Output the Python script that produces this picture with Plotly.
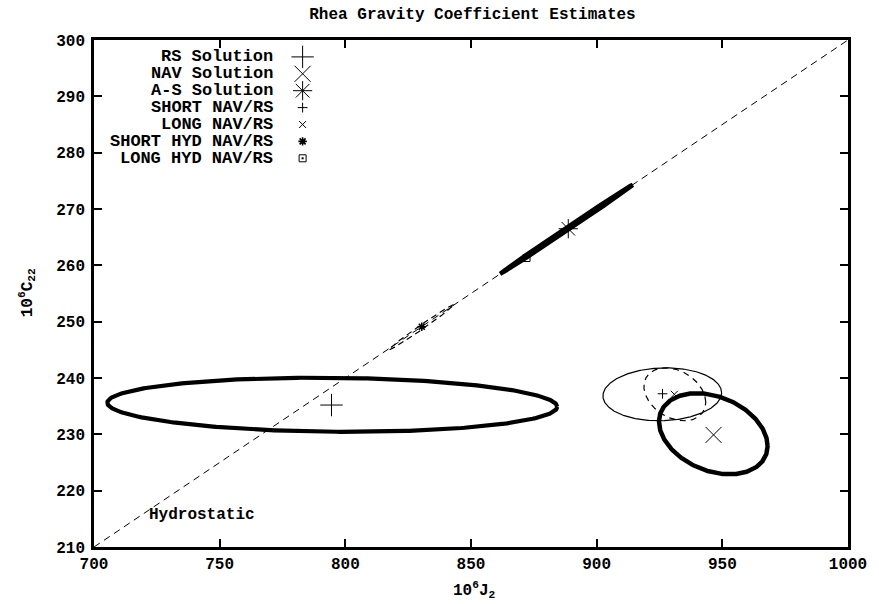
import numpy as np
import plotly.graph_objects as go

# ---------------- data ----------------
# point estimates (J2, C22) x 1e6
sol_names = ["RS Solution", "NAV Solution", "A-S Solution",
             "SHORT NAV/RS", "LONG NAV/RS", "SHORT HYD NAV/RS", "LONG HYD NAV/RS"]
sol_j2 = [794.5, 946.5, 888.7, 926.2, 930.9, 830.4, 872.1]
sol_c22 = [235.2, 229.9, 266.5, 237.2, 237.1, 249.1, 261.3]

# 1-sigma error ellipses: center, x half-extent, y half-extent, correlation
ell_names = ["RS Solution", "NAV Solution", "A-S Solution",
             "SHORT NAV/RS", "LONG NAV/RS", "SHORT HYD NAV/RS"]
ell_cx = [794.8, 946.4, 888.0, 926.1, 931.1, 830.2]
ell_cy = [235.25, 230.1, 266.4, 237.1, 237.1, 249.0]
ell_sx = [89.5, 21.6, 26.4, 23.6, 12.3, 12.9]
ell_sy = [4.8, 7.2, 7.9, 4.7, 4.7, 4.0]
ell_rho = [-0.075, -0.3, 0.9993, 0.06, -0.3, 0.993]

# hydrostatic relation C22 = 0.3 J2
hyd_j2 = [700, 1000]
hyd_c22 = [210, 300]

x_ticks = [700, 750, 800, 850, 900, 950, 1000]
y_ticks = [210, 220, 230, 240, 250, 260, 270, 280, 290, 300]

# ---------------- styles ----------------
FONT = "Liberation Mono"
ell_width = [4.2, 4.5, 4.5, 1.2, 1.2, 1.2]
ell_dash = ["solid", "solid", "solid", "solid", "6px,5px", "6px,4px"]
sym = ["cross-thin-open", "x-thin-open", "asterisk-open",
       "cross-thin-open", "x-thin-open", "asterisk-open", "square-open"]
sym_size = [16, 16, 16, 7, 7, 7, 7]
sym_lw = [1, 1, 1, 1, 1, 1.6, 1]

fig = go.Figure()

fig.add_trace(go.Scatter(x=hyd_j2, y=hyd_c22, mode="lines",
                         line=dict(color="black", width=1, dash="7px,5px"),
                         showlegend=False, hoverinfo="skip"))

t = np.linspace(0, 2 * np.pi, 361)
for i in range(len(ell_names)):
    r = ell_rho[i]
    ex = ell_cx[i] + ell_sx[i] * np.cos(t)
    ey = ell_cy[i] + ell_sy[i] * (r * np.cos(t) + np.sqrt(1 - r * r) * np.sin(t))
    fig.add_trace(go.Scatter(x=ex, y=ey, mode="lines",
                             line=dict(color="black", width=ell_width[i], dash=ell_dash[i]),
                             showlegend=False, hoverinfo="skip"))

for i in range(len(sol_names)):
    fig.add_trace(go.Scatter(x=[sol_j2[i]], y=[sol_c22[i]], mode="markers",
                             marker=dict(symbol=sym[i], size=sym_size[i], color="black",
                                         line=dict(color="black", width=sym_lw[i])),
                             showlegend=False, name=sol_names[i]))
# center dot of the square marker
fig.add_trace(go.Scatter(x=[sol_j2[6]], y=[sol_c22[6]], mode="markers",
                         marker=dict(symbol="square", size=2, color="black"),
                         showlegend=False, hoverinfo="skip"))

# manual key (gnuplot style: right-aligned text, symbol to the right)
key_text_x = 771.5
key_sym_x = 783.0
key_y0 = 297.0
key_dy = 3.0
key_y = [key_y0 - k * key_dy for k in range(len(sol_names))]
for i in range(len(sol_names)):
    fig.add_trace(go.Scatter(x=[key_sym_x], y=[key_y[i]], mode="markers",
                             marker=dict(symbol=sym[i], size=sym_size[i], color="black",
                                         line=dict(color="black", width=sym_lw[i])),
                             showlegend=False, hoverinfo="skip"))
    fig.add_annotation(x=key_text_x, y=key_y[i], xref="x", yref="y", text=sol_names[i],
                       showarrow=False, xanchor="right", yanchor="middle", borderpad=0,
                       font=dict(family=FONT, size=17, color="black", weight="bold"))
fig.add_trace(go.Scatter(x=[key_sym_x], y=[key_y[6]], mode="markers",
                         marker=dict(symbol="square", size=2, color="black"),
                         showlegend=False, hoverinfo="skip"))

fig.add_annotation(x=721, y=215.7, xref="x", yref="y", text="Hydrostatic",
                   showarrow=False, xanchor="left", yanchor="middle",
                   font=dict(family=FONT, size=16, color="black", weight="bold"))

# axis titles
fig.add_annotation(x=(476 - 94) / 757, y=-(590 - 547) / 507, xref="paper", yref="paper",
                   text="10<sup>6</sup>J<sub>2</sub>", showarrow=False,
                   xanchor="center", yanchor="middle",
                   font=dict(family=FONT, size=16, color="black", weight="bold"))
fig.add_annotation(x=-(94 - 27) / 757, y=(547 - 293) / 507, xref="paper", yref="paper",
                   text="10<sup>6</sup>C<sub>22</sub>", showarrow=False, textangle=-90,
                   xanchor="center", yanchor="middle",
                   font=dict(family=FONT, size=16, color="black", weight="bold"))

axis_common = dict(showline=True, linewidth=2.5, linecolor="black", mirror="allticks",
                   ticks="inside", ticklen=8, tickwidth=2, tickcolor="black",
                   showgrid=False, zeroline=False,
                   tickfont=dict(family=FONT, size=16, color="black", weight="bold"))

fig.update_layout(
    width=879, height=604,
    margin=dict(l=94, r=28, t=40, b=57),
    paper_bgcolor="white", plot_bgcolor="white",
    title=dict(text="Rhea Gravity Coefficient Estimates", x=472.5 / 879, xanchor="center",
               y=1 - 13 / 604, yanchor="middle", yref="container",
               font=dict(family=FONT, size=16, color="black", weight="bold")),
    xaxis=dict(range=[700, 1000], tickvals=x_ticks, ticktext=[str(v) for v in x_ticks],
               **axis_common),
    yaxis=dict(range=[210, 300], tickvals=y_ticks, ticktext=[str(v) for v in y_ticks],
               ticklabelstandoff=3, **axis_common),
    showlegend=False,
)

fig.write_html("out.html", config={"displayModeBar": False},
               post_script="document.body.style.margin='0px';document.body.style.padding='0px';")
